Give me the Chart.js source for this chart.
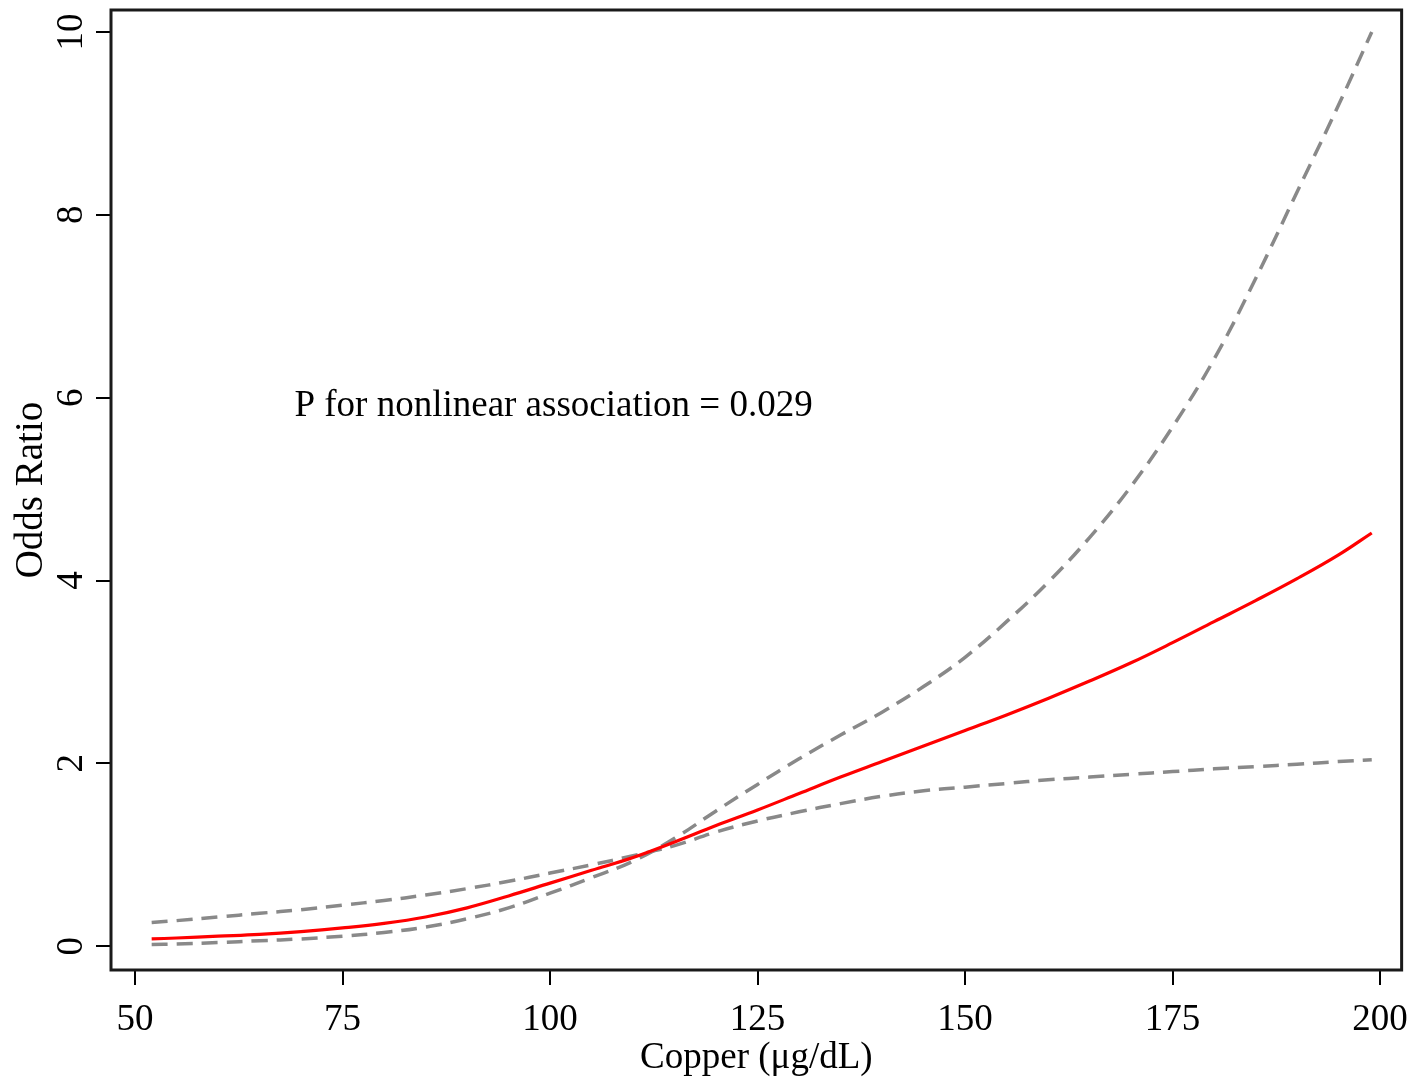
<!DOCTYPE html>
<html>
<head>
<meta charset="utf-8">
<script src="https://cdn.jsdelivr.net/npm/chart.js@4.4.1/dist/chart.umd.min.js"></script>
<style>
  html, body { margin: 0; padding: 0; background: #fff; }
</style>
</head>
<body>
<canvas id="rcs" width="1421" height="1080"></canvas>
<script>
// Copper (ug/dL) along x-axis
var copper = [52, 55, 60, 65, 70, 75, 80, 85, 90, 95, 100, 105, 110, 115, 120, 125, 130, 135, 140, 145, 150, 155, 160, 165, 170, 175, 180, 185, 190, 195, 199];

// Odds ratio (red line)
var oddsRatio = [0.08, 0.09, 0.11, 0.13, 0.16, 0.20, 0.25, 0.32, 0.42, 0.55, 0.69, 0.83, 0.97, 1.14, 1.32, 1.49, 1.67, 1.85, 2.02, 2.19, 2.36, 2.53, 2.71, 2.90, 3.10, 3.32, 3.55, 3.78, 4.02, 4.28, 4.52];

// 95% CI bounds (they cross near the reference point)
var ciWide = [0.02, 0.025, 0.04, 0.06, 0.08, 0.11, 0.15, 0.21, 0.30, 0.42, 0.58, 0.75, 0.93, 1.18, 1.48, 1.77, 2.05, 2.31, 2.56, 2.84, 3.16, 3.55, 3.98, 4.47, 5.03, 5.68, 6.42, 7.30, 8.25, 9.20, 10.0];
var ciFlat = [0.26, 0.28, 0.32, 0.36, 0.40, 0.45, 0.50, 0.56, 0.63, 0.71, 0.80, 0.89, 0.99, 1.10, 1.25, 1.37, 1.47, 1.56, 1.64, 1.70, 1.74, 1.78, 1.82, 1.85, 1.88, 1.91, 1.94, 1.965, 1.99, 2.02, 2.04];

// Tick labels
var xTicks = [50, 75, 100, 125, 150, 175, 200];
var yTicks = [0, 2, 4, 6, 8, 10];

var note = "P for nonlinear association = 0.029";
var noteAt = [69.2, 5.8];

var serif = '"Liberation Serif", "Times New Roman", Times, serif';

function toPoints(ys) {
    return copper.map(function (x, i) { return { x: x, y: ys[i] }; });
}

// rotated y labels, the note and the box around the plot
var extras = {
    id: 'extras',
    afterDraw: function (chart) {
        var ctx = chart.ctx;
        var area = chart.chartArea;
        var xs = chart.scales.x;
        var ys = chart.scales.y;
        ctx.save();
        ctx.fillStyle = '#000';
        ctx.font = '37px ' + serif;
        yTicks.forEach(function (v) {
            ctx.save();
            ctx.translate(area.left - 29, ys.getPixelForValue(v));
            ctx.rotate(-Math.PI / 2);
            ctx.textAlign = 'center';
            ctx.textBaseline = 'alphabetic';
            ctx.fillText(String(v), 0, 0);
            ctx.restore();
        });
        ctx.textAlign = 'left';
        ctx.textBaseline = 'alphabetic';
        ctx.fillText(note, xs.getPixelForValue(noteAt[0]), ys.getPixelForValue(noteAt[1]));
        ctx.lineWidth = 3;
        ctx.strokeStyle = '#1a1a1a';
        ctx.strokeRect(area.left, area.top, area.right - area.left, area.bottom - area.top);
        ctx.restore();
    }
};

var ctx = document.getElementById("rcs");

var chart = new Chart(ctx, {
    type: 'line',
    data: {
        datasets: [
            {
                data: toPoints(oddsRatio),
                borderColor: "#ff0000",
                borderWidth: 3.2,
                pointRadius: 0,
                tension: 0.4,
                fill: false
            },
            {
                data: toPoints(ciWide),
                borderColor: "#898989",
                borderWidth: 3.5,
                borderDash: [16, 9],
                pointRadius: 0,
                tension: 0.4,
                fill: false
            },
            {
                data: toPoints(ciFlat),
                borderColor: "#898989",
                borderWidth: 3.5,
                borderDash: [16, 9],
                pointRadius: 0,
                tension: 0.4,
                fill: false
            }
        ]
    },
    options: {
        responsive: false,
        animation: false,
        devicePixelRatio: 1,
        layout: { padding: { top: 10, right: 12, bottom: 0, left: 0 } },
        plugins: {
            legend: { display: false },
            tooltip: { enabled: false }
        },
        scales: {
            x: {
                type: 'linear',
                min: 47.1,
                max: 202.6,
                afterBuildTicks: function (axis) {
                    axis.ticks = xTicks.map(function (v) { return { value: v }; });
                },
                afterFit: function (axis) { axis.height = 110; },
                border: { display: false },
                grid: {
                    drawOnChartArea: false,
                    drawTicks: true,
                    tickLength: 15,
                    tickColor: '#000',
                    lineWidth: 2
                },
                ticks: {
                    color: '#000',
                    padding: 13,
                    maxRotation: 0,
                    font: { family: serif, size: 37 }
                },
                title: {
                    display: true,
                    text: 'Copper (μg/dL)',
                    color: '#000',
                    padding: { top: 0, bottom: 0 },
                    font: { family: serif, size: 37 }
                }
            },
            y: {
                min: -0.26,
                max: 10.24,
                afterBuildTicks: function (axis) {
                    axis.ticks = yTicks.map(function (v) { return { value: v }; });
                },
                afterFit: function (axis) { axis.width = 111; },
                border: { display: false },
                grid: {
                    drawOnChartArea: false,
                    drawTicks: true,
                    tickLength: 15,
                    tickColor: '#000',
                    lineWidth: 2
                },
                ticks: { display: false },
                title: {
                    display: true,
                    text: 'Odds Ratio',
                    color: '#000',
                    padding: { top: 8, bottom: 0 },
                    font: { family: serif, size: 39 }
                }
            }
        }
    },
    plugins: [extras]
});
</script>
</body>
</html>
